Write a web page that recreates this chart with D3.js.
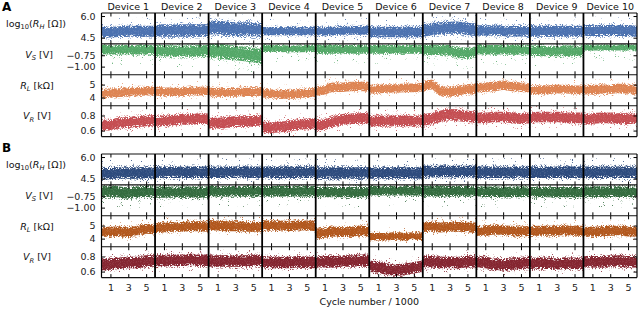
<!DOCTYPE html>
<html>
<head>
<meta charset="utf-8">
<script src="https://cdn.jsdelivr.net/npm/d3@7"></script>
<style>
  body { margin: 0; background: #fff; }
  svg { font-family: "DejaVu Sans", sans-serif; }
</style>
</head>
<body>
<script>
// devices and cycle axis
const devices = ["Device 1","Device 2","Device 3","Device 4","Device 5","Device 6","Device 7","Device 8","Device 9","Device 10"];
const cyclePts = [0,1,2,3,4,5,6];   // x positions (x1000 cycles) of the read values below
const cycleTicks = [1,3,5];

// panel A : centre of the point cloud at each cycle, one row per device
const rhA = [
  [4.88,4.9,4.92,4.95,4.95,4.95,4.95],
  [5.0,5.0,5.0,5.0,5.0,5.0,5.0],
  [5.2,5.2,5.15,5.1,5.1,5.05,5.05],
  [4.95,4.95,4.95,4.95,4.95,4.95,4.95],
  [4.95,4.95,4.95,5.0,5.0,5.0,5.0],
  [4.9,4.9,4.9,4.9,4.9,4.9,4.9],
  [5.0,5.1,5.15,5.2,5.2,5.1,5.05],
  [5.0,5.0,5.0,4.95,4.95,4.95,4.95],
  [4.95,4.95,4.95,4.95,4.95,4.95,4.95],
  [5.0,5.0,5.0,5.0,5.0,5.0,4.95]
];
const rhAw = [0.4,0.45,0.5,0.3,0.32,0.38,0.45,0.38,0.4,0.4];

const vsA = [
  [-0.63,-0.63,-0.63,-0.63,-0.63,-0.63,-0.63],
  [-0.65,-0.65,-0.66,-0.66,-0.66,-0.65,-0.65],
  [-0.64,-0.66,-0.68,-0.7,-0.72,-0.75,-0.78],
  [-0.6,-0.6,-0.6,-0.61,-0.61,-0.6,-0.6],
  [-0.62,-0.62,-0.62,-0.62,-0.62,-0.62,-0.62],
  [-0.62,-0.62,-0.62,-0.62,-0.62,-0.62,-0.62],
  [-0.63,-0.63,-0.63,-0.64,-0.7,-0.7,-0.66],
  [-0.63,-0.63,-0.63,-0.63,-0.63,-0.63,-0.63],
  [-0.65,-0.65,-0.66,-0.66,-0.65,-0.65,-0.65],
  [-0.58,-0.58,-0.58,-0.58,-0.58,-0.58,-0.58]
];
const vsAw = [0.11,0.13,0.17,0.08,0.1,0.1,0.12,0.11,0.12,0.07];

const rlA = [
  [4.3,4.33,4.38,4.42,4.47,4.5,4.5],
  [4.5,4.45,4.45,4.45,4.5,4.5,4.55],
  [4.45,4.4,4.4,4.4,4.45,4.45,4.5],
  [4.35,4.3,4.25,4.25,4.3,4.35,4.4],
  [4.5,4.6,4.8,4.8,4.85,4.85,4.85],
  [4.65,4.65,4.7,4.7,4.75,4.75,4.8],
  [4.8,5.0,4.5,4.45,4.55,4.65,4.7],
  [4.75,4.8,4.85,4.95,4.85,4.8,4.75],
  [4.6,4.6,4.6,4.65,4.65,4.6,4.6],
  [4.6,4.6,4.65,4.65,4.7,4.65,4.6]
];
const rlAw = [0.35,0.35,0.35,0.35,0.38,0.35,0.4,0.38,0.35,0.38];

const vrA = [
  [0.66,0.68,0.7,0.71,0.72,0.73,0.74],
  [0.72,0.73,0.74,0.75,0.75,0.76,0.76],
  [0.7,0.7,0.71,0.72,0.72,0.73,0.74],
  [0.65,0.64,0.65,0.66,0.68,0.69,0.7],
  [0.67,0.68,0.72,0.75,0.76,0.76,0.77],
  [0.73,0.73,0.73,0.73,0.73,0.73,0.73],
  [0.74,0.76,0.79,0.81,0.8,0.79,0.78],
  [0.77,0.77,0.78,0.78,0.77,0.76,0.77],
  [0.77,0.78,0.78,0.78,0.77,0.77,0.77],
  [0.75,0.76,0.77,0.77,0.76,0.76,0.76]
];
const vrAw = [0.075,0.075,0.075,0.075,0.075,0.075,0.08,0.075,0.075,0.075];

// panel B
const rhB = [
  [4.85,4.85,4.9,4.9,4.9,4.9,4.9],
  [4.95,4.95,4.95,4.95,4.95,4.95,4.95],
  [4.95,4.95,4.95,4.95,4.95,4.95,4.95],
  [4.95,4.95,4.95,4.95,4.95,4.95,4.95],
  [4.9,4.9,4.9,4.9,4.9,4.9,4.9],
  [4.9,4.9,4.9,4.9,4.9,4.9,4.9],
  [5.0,5.0,5.0,5.0,5.0,5.0,5.0],
  [4.95,4.95,4.95,4.95,4.95,4.95,4.95],
  [4.95,4.95,4.95,4.95,4.95,4.95,4.95],
  [4.95,4.95,4.95,4.95,4.95,4.95,4.95]
];
const rhBw = [0.42,0.42,0.42,0.42,0.42,0.42,0.42,0.42,0.42,0.42];

const vsB = [
  [-0.66,-0.64,-0.66,-0.68,-0.66,-0.64,-0.66],
  [-0.66,-0.66,-0.66,-0.66,-0.66,-0.66,-0.66],
  [-0.64,-0.64,-0.64,-0.64,-0.64,-0.64,-0.64],
  [-0.64,-0.64,-0.64,-0.64,-0.64,-0.64,-0.64],
  [-0.66,-0.66,-0.66,-0.66,-0.66,-0.66,-0.66],
  [-0.63,-0.63,-0.63,-0.63,-0.63,-0.63,-0.63],
  [-0.64,-0.64,-0.64,-0.64,-0.64,-0.64,-0.64],
  [-0.65,-0.65,-0.65,-0.65,-0.65,-0.65,-0.65],
  [-0.66,-0.66,-0.66,-0.66,-0.66,-0.66,-0.66],
  [-0.65,-0.65,-0.65,-0.65,-0.65,-0.65,-0.65]
];
const vsBw = [0.13,0.13,0.12,0.12,0.12,0.11,0.12,0.12,0.12,0.12];

const rlB = [
  [4.5,4.55,4.55,4.5,4.6,4.75,4.7],
  [4.8,4.85,4.9,4.9,4.95,4.95,4.9],
  [5.05,5.0,4.95,4.95,4.9,4.9,4.9],
  [5.05,5.0,5.0,4.95,5.0,5.0,4.95],
  [4.4,4.45,4.55,4.5,4.55,4.6,4.55],
  [4.15,4.15,4.15,4.2,4.15,4.2,4.2],
  [4.9,4.9,4.85,4.9,4.9,4.85,4.85],
  [4.6,4.6,4.7,4.65,4.6,4.55,4.6],
  [4.55,4.6,4.6,4.6,4.65,4.6,4.6],
  [4.5,4.55,4.55,4.6,4.6,4.55,4.55]
];
const rlBw = [0.4,0.4,0.4,0.4,0.4,0.3,0.4,0.4,0.4,0.4];

const vrB = [
  [0.69,0.7,0.71,0.72,0.72,0.74,0.74],
  [0.74,0.75,0.75,0.75,0.76,0.75,0.75],
  [0.74,0.74,0.74,0.74,0.74,0.75,0.75],
  [0.73,0.72,0.72,0.72,0.73,0.72,0.72],
  [0.72,0.73,0.73,0.74,0.74,0.75,0.75],
  [0.67,0.66,0.63,0.62,0.63,0.65,0.67],
  [0.73,0.73,0.72,0.72,0.72,0.73,0.73],
  [0.73,0.72,0.7,0.69,0.7,0.71,0.72],
  [0.71,0.71,0.71,0.7,0.71,0.71,0.71],
  [0.73,0.73,0.73,0.74,0.74,0.73,0.73]
];
const vrBw = [0.08,0.08,0.08,0.08,0.08,0.08,0.08,0.08,0.08,0.08];

// rows: axis range, tick values, and the spread of the sparse outliers
const rows = [
  {domain:[4.07,6.21], ticks:[4.5,6.0], fmt:".1f", tailUp:0.55, tailDown:0.35},
  {domain:[-1.18,-0.5], ticks:[-1.0,-0.75], fmt:".2f", tailUp:0.05, tailDown:0.22},
  {domain:[3.38,5.75], ticks:[4,5], fmt:"d", tailUp:0.4, tailDown:0.25},
  {domain:[0.52,0.93], ticks:[0.6,0.8], fmt:".1f", tailUp:0.07, tailDown:0.07}
];

const panels = [
  {name:"A", top:13, colours:["#4c72b0","#55a868","#dd8452","#c44e52"],
   centres:[rhA,vsA,rlA,vrA], widths:[rhAw,vsAw,rlAw,vrAw]},
  {name:"B", top:154, colours:["#2f4c7e","#346c3f","#b2581e","#862631"],
   centres:[rhB,vsB,rlB,vrB], widths:[rhBw,vsBw,rlBw,vrBw]}
];

const dim = {width:640, height:309, left:101.5, right:637, rowH:30.9};
const cellW = (dim.right - dim.left)/devices.length;

const svg = d3.select('body')
    .append('svg')
    .attr('width',dim.width)
    .attr('height',dim.height);

// speckle textures so the bands read like dense scatter
const defs = svg.append('defs');
const speck = (id, seed, k, b) => {
    const f = defs.append('filter').attr('id',id)
        .attr('filterUnits','userSpaceOnUse')
        .attr('x',-5).attr('y',-5).attr('width',70).attr('height',45);
    f.append('feTurbulence').attr('type','fractalNoise')
        .attr('baseFrequency',1.1).attr('numOctaves',2).attr('seed',seed).attr('result','n');
    f.append('feColorMatrix').attr('in','n').attr('type','matrix')
        .attr('values',`0 0 0 0 0  0 0 0 0 0  0 0 0 0 0  ${k} 0 0 0 ${b}`).attr('result','m');
    f.append('feComposite').attr('in','SourceGraphic').attr('in2','m').attr('operator','in');
};
[1,2,3].forEach(s=>{
    speck(`sparse${s}`, s*7, 16, -11.4);
    speck(`mid${s}`, s*13, 12, -6.8);
    speck(`dense${s}`, s*11, 9, -3.4);
});

const x = d3.scaleLinear().domain([0,6]).range([0,cellW]);

panels.forEach((panel,pi)=>{
    rows.forEach((row,ri)=>{
        const top = panel.top + ri*dim.rowH;
        const y = d3.scaleLinear().domain(row.domain).range([dim.rowH,0]);

        devices.forEach((dev,di)=>{
            const g = svg.append('g')
                .attr('transform',`translate(${dim.left + di*cellW},${top})`);
            const clipId = `clip-${pi}-${ri}-${di}`;
            g.append('clipPath').attr('id',clipId)
                .append('rect').attr('width',cellW).attr('height',dim.rowH);

            const pts = cyclePts.map((c,i)=>({c, m:panel.centres[ri][di][i]}));
            const w = panel.widths[ri][di];
            const band = (lo,hi) => d3.area()
                .x(p=>x(p.c))
                .y0(p=>y(p.m - lo))
                .y1(p=>y(p.m + hi))
                .curve(d3.curveMonotoneX)(pts);

            const clouds = g.append('g').attr('clip-path',`url(#${clipId})`);
            const s = (pi*40 + ri*10 + di)%3 + 1;
            const col = panel.colours[ri];
            clouds.append('path')
                .attr('d',band(w + row.tailDown, w + row.tailUp))
                .attr('fill',col).attr('opacity',0.8)
                .attr('filter',`url(#sparse${s})`);
            clouds.append('path')
                .attr('d',band(w*1.25, w*1.25))
                .attr('fill',col).attr('opacity',0.85)
                .attr('filter',`url(#mid${s})`);
            clouds.append('path')
                .attr('d',band(w*0.95, w*0.95))
                .attr('fill',col)
                .attr('filter',`url(#dense${s})`);
            clouds.append('path')
                .attr('d',band(w*0.6, w*0.6))
                .attr('fill',col)
                .attr('opacity',0.92);

            // inward ticks, top and bottom
            const tTop = g.append('g').call(d3.axisTop(x).tickValues(cycleTicks).tickSize(-3.5).tickFormat(''));
            const tBot = g.append('g').attr('transform',`translate(0,${dim.rowH})`)
                .call(d3.axisBottom(x).tickValues(cycleTicks).tickSize(-3.5)
                    .tickPadding(7)
                    .tickFormat(pi===1 && ri===3 ? d3.format('d') : ''));
            [tTop,tBot].forEach(t=>{
                t.select('.domain').remove();
                t.selectAll('line').attr('stroke','#000').attr('stroke-width',1);
                t.selectAll('text').attr('font-size',9.5).attr('fill','#222')
                    .attr('font-family','"DejaVu Sans", sans-serif');
            });

            if (di===0) {
                const yl = g.append('g').call(d3.axisLeft(y).tickValues(row.ticks)
                    .tickSize(-3.5).tickPadding(6).tickFormat(d3.format(row.fmt)));
                yl.select('.domain').remove();
                yl.selectAll('line').attr('stroke','#000');
                yl.selectAll('text').attr('font-size',9.5).attr('fill','#222')
                    .attr('font-family','"DejaVu Sans", sans-serif');
            }
            if (di===devices.length-1) {
                const yr = g.append('g').attr('transform',`translate(${cellW},0)`)
                    .call(d3.axisRight(y).tickValues(row.ticks).tickSize(-3.5).tickFormat(''));
                yr.select('.domain').remove();
                yr.selectAll('line').attr('stroke','#000');
            }
        });

        // horizontal row frame
        svg.append('line')
            .attr('x1',dim.left).attr('x2',dim.right)
            .attr('y1',top).attr('y2',top)
            .attr('stroke','#111').attr('stroke-width',1.1);
    });

    const bottom = panel.top + rows.length*dim.rowH;
    svg.append('line')
        .attr('x1',dim.left).attr('x2',dim.right)
        .attr('y1',bottom).attr('y2',bottom)
        .attr('stroke','#111').attr('stroke-width',1.1);

    // vertical device separators
    d3.range(devices.length+1).forEach(i=>{
        svg.append('line')
            .attr('x1',dim.left + i*cellW).attr('x2',dim.left + i*cellW)
            .attr('y1',panel.top).attr('y2',bottom)
            .attr('stroke','#000')
            .attr('stroke-width',(i===0 || i===devices.length) ? 1.2 : 1.8);
    });

    // panel letter
    svg.append('text')
        .attr('x',2).attr('y',panel.top - 2)
        .attr('font-size',12).attr('font-weight','bold')
        .text(panel.name);

    // row labels
    const labels = svg.append('g').attr('font-size',9.5).attr('fill','#111')
        .attr('text-anchor','middle');
    const cy = r => panel.top + (r+0.5)*dim.rowH - 5;

    const l0 = labels.append('text').attr('x',36).attr('y',cy(0)).attr('dy','0.35em');
    l0.append('tspan').text('log');
    l0.append('tspan').attr('font-size',6.7).attr('dy',2.5).text('10');
    l0.append('tspan').attr('dy',-2.5).text('(');
    l0.append('tspan').attr('font-style','italic').text('R');
    l0.append('tspan').attr('font-style','italic').attr('font-size',6.7).attr('dy',2.5).text('H');
    l0.append('tspan').attr('dy',-2.5).text(' [Ω])');

    const sub = (r, main, s, unit, xc) => {
        const t = labels.append('text').attr('x',xc).attr('y',cy(r)).attr('dy','0.35em');
        t.append('tspan').attr('font-style','italic').text(main);
        t.append('tspan').attr('font-style','italic').attr('font-size',6.7).attr('dy',2.5).text(s);
        t.append('tspan').attr('dy',-2.5).text(` [${unit}]`);
    };
    sub(1,'V','S','V',39);
    sub(2,'R','L','kΩ',37);
    sub(3,'V','R','V',37);
});

// device titles
svg.append('g').selectAll('text')
    .data(devices)
    .enter().append('text')
    .attr('x',(d,i)=>dim.left + (i+0.5)*cellW)
    .attr('y',10)
    .attr('text-anchor','middle')
    .attr('font-size',9.5)
    .attr('fill','#111')
    .text(d=>d);

// x axis title
svg.append('text')
    .attr('x',(dim.left+dim.right)/2)
    .attr('y',305)
    .attr('text-anchor','middle')
    .attr('font-size',9.5)
    .attr('fill','#111')
    .text('Cycle number / 1000');
</script>
</body>
</html>
